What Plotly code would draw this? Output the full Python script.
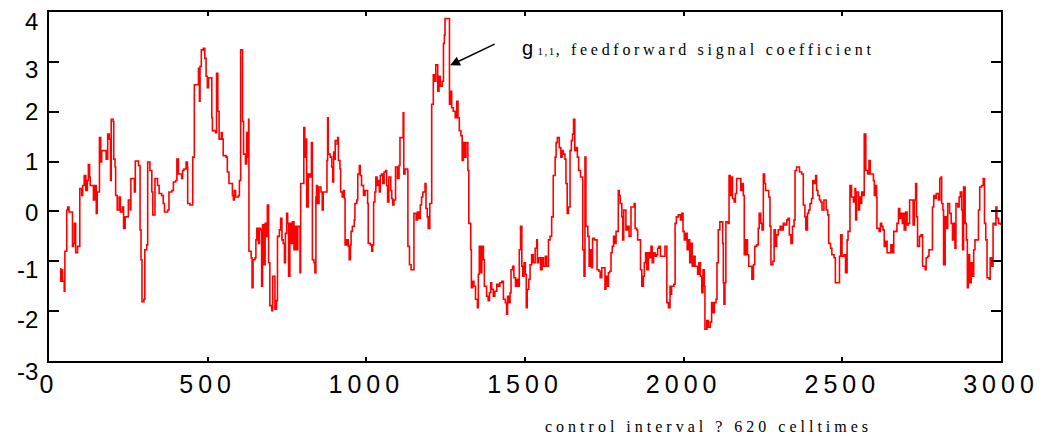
import plotly.graph_objects as go

# control interval index (x) and g_{1,1} coefficient (y) (step trace)
x_vals = [
    35, 37, 40, 43, 48, 50, 56, 59, 63, 74, 77, 80, 84, 90, 97, 103, 106, 111, 116, 121,
    124, 128, 130, 140, 145, 149, 152, 159, 163, 166, 180, 185, 190, 194, 196, 202, 204, 208, 210, 215,
    221, 225, 231, 235, 240, 250, 256, 258, 269, 272, 282, 287, 290, 293, 299, 302, 308, 311, 318, 324,
    327, 334, 342, 347, 355, 360, 364, 374, 378, 387, 392, 399, 403, 408,
    413, 418, 421, 425, 432, 436, 437, 444, 452, 453, 458, 467, 471, 474, 476, 480, 486, 491, 495, 499,
    503, 511, 513, 515, 525, 528, 532, 536, 543, 546, 549, 558, 562, 567, 574, 578, 581, 584, 588, 597,
    600, 604, 610, 613, 619, 623, 626, 629, 630, 637, 640, 643, 649, 652, 655, 660, 663, 667, 670, 673,
    678, 681, 684, 688, 692, 696, 702, 705, 710, 712, 717, 720, 726, 730, 734, 738, 742, 745, 749, 752,
    755, 759, 764, 767, 772, 775, 780, 784, 789, 791, 793, 799, 803, 806, 809, 812, 817, 822, 827, 830,
    835, 838,
    841, 843, 846, 851, 857, 861, 864, 872, 876, 878, 880, 886, 891, 894, 897, 899, 902, 908, 910, 912,
    917, 919, 924, 928, 931, 933, 938, 943, 946, 950, 952, 956, 962, 964, 970, 973, 978, 981, 985, 991,
    996, 1001, 1004, 1006, 1013, 1017, 1020, 1023, 1027, 1030, 1034, 1038, 1041, 1044, 1048, 1052, 1056, 1061, 1064, 1067,
    1071, 1077, 1080, 1083, 1087, 1092, 1098, 1103, 1106, 1113, 1116, 1118, 1122, 1130, 1131, 1136, 1141, 1147, 1150, 1157,
    1161, 1166, 1170, 1174, 1178, 1185, 1188, 1192, 1195, 1200, 1206, 1211, 1216, 1219, 1225, 1229, 1233, 1239, 1243, 1246,
    1248, 1262, 1266, 1269, 1274, 1280, 1285, 1289, 1293, 1298, 1302, 1306, 1311, 1314, 1318, 1320, 1323, 1329, 1331, 1335,
    1339, 1344, 1350, 1353, 1356, 1360, 1364, 1369, 1372, 1376, 1379, 1384, 1388, 1392, 1395, 1400, 1405, 1411, 1416, 1421,
    1427, 1432, 1438, 1442, 1445, 1449, 1453, 1456, 1461, 1465, 1470, 1474, 1479, 1482, 1486, 1490, 1493, 1497, 1501, 1504,
    1507, 1512, 1516, 1521, 1526, 1532, 1537, 1539, 1543, 1549, 1554, 1558, 1564, 1568, 1574, 1579, 1584, 1589, 1595, 1598,
    1602, 1608, 1613, 1617, 1621, 1626, 1629, 1633, 1637, 1642, 1646, 1650, 1653, 1657, 1661, 1665, 1669, 1675, 1682, 1686,
    1689, 1692, 1698, 1702, 1706, 1710, 1713, 1719, 1727, 1733, 1737, 1742, 1752, 1755, 1758, 1763, 1767, 1771, 1775, 1779,
    1784, 1787, 1794, 1797, 1800, 1805, 1808, 1811, 1818, 1823, 1828, 1834, 1844, 1847, 1852, 1855, 1864, 1868, 1873, 1876,
    1880, 1884, 1889, 1894, 1897, 1901, 1905, 1910, 1915, 1918, 1922, 1927, 1941, 1947, 1952, 1957, 1960, 1962, 1969, 1973,
    1977, 1983, 1990, 1994, 1998, 2002, 2006, 2011, 2015, 2019, 2023, 2027, 2032, 2036, 2044, 2048, 2053, 2057, 2061, 2065,
    2067, 2073, 2078, 2084, 2088, 2093, 2097, 2102, 2105, 2109, 2114, 2123, 2125, 2127, 2130, 2133, 2140, 2143, 2147, 2150,
    2154, 2159, 2163, 2167, 2180, 2184, 2188, 2191, 2196, 2201, 2205, 2215, 2220, 2224, 2230, 2235, 2238, 2243, 2247, 2251,
    2255, 2258, 2268, 2272, 2275, 2281, 2285, 2289, 2293, 2298, 2304, 2309, 2314, 2319, 2325, 2329, 2333, 2338, 2343, 2348,
    2351, 2356, 2365, 2372, 2377, 2382, 2385, 2390, 2394, 2398, 2403, 2407, 2412, 2416, 2419, 2423, 2428, 2432, 2436, 2442,
    2449, 2454, 2457, 2463, 2467, 2474, 2478, 2491, 2495, 2499, 2505, 2510, 2515, 2518, 2524, 2529, 2535,
    2540, 2542, 2545, 2551, 2554, 2559, 2561, 2566, 2569, 2574, 2580, 2584, 2588, 2598, 2601, 2605, 2608, 2609, 2616, 2620,
    2624, 2628, 2632, 2637, 2641, 2653, 2658, 2662, 2672, 2677, 2681, 2685, 2689, 2692, 2695, 2700, 2704, 2708, 2712, 2723,
    2727, 2731, 2734, 2737, 2743, 2748, 2753, 2761, 2764, 2769, 2773, 2784, 2788, 2792, 2796, 2803, 2807, 2811, 2813, 2817,
    2819, 2824, 2828, 2832, 2838, 2843, 2847, 2851, 2855, 2858, 2864, 2868, 2872, 2876, 2879, 2882, 2887, 2891, 2894, 2897,
    2901, 2906, 2910, 2914, 2918, 2929, 2933, 2939, 2944, 2948, 2952, 2956, 2963, 2966, 2971, 2975, 2981, 2984, 2987, 2992,
    2998,
]
y_vals = [
    -1.15, -1.40, -1.17, -1.40, -1.60, -0.80, 0.03, 0.09, -0.01, -0.70, -0.64, -0.24, -0.83, -0.70, 0.46, 0.32, 0.52, 0.72, 0.42, 0.62,
    0.94, 0.69, 0.52, 0.23, 0.52, -0.04, 0.39, 1.48, 0.99, 1.22, 1.05, 1.55, 1.45, 0.62, 1.85, 1.81, 1.05, 0.89, 0.32, 0.03,
    0.29, -0.01, 0.09, -0.34, -0.11, 0.23, 0.03, 0.66, 0.39, 1.01, 0.92, -0.37, -0.97, -1.81, -1.76, -0.77, -0.67, 0.99, 0.82, 0.39,
    -0.07, 0.66, 0.52, 0.36, 0.32, 0.16, -0.01, 0.03, 0.39, 0.42, 0.59, 0.62, 1.05, 0.75,
    0.75, 0.66, 0.82, 0.85, 0.99, 0.89, 0.16, 0.13, 0.13, 1.09, 2.54, 2.54, 2.87, 2.21, 2.91, 3.24, 3.27, 3.07, 2.71, 2.48,
    2.68, 2.68, 1.88, 1.62, 1.58, 2.77, 2.01, 1.45, 1.58, 1.45, 1.12, 1.09, 0.79, 0.56, 0.56, 0.32, 0.23, 0.42, 0.29, 0.32,
    0.62, 3.24, 1.81, 1.15, 0.95, 1.58, 1.09, 1.85, -0.80, -0.93, -1.53, -0.97, -0.93, -0.57, -0.34, -0.64, -0.34, -0.37, -1.50, -0.27,
    -1.07, -0.24, -0.50, 0.13, -1.03, -1.89, -1.99, -1.30, -1.30, -1.96, -1.79, -0.50, -0.37, -0.14, -0.57, -0.64, -1.03, -0.44, -0.04, -0.24,
    -1.30, -0.24, -0.64, -0.21, -0.77, -0.30, -0.77, -0.30, -0.30, -1.23, 0.56, 0.56, 1.68, 1.09, 1.45, 0.09, 0.75, 0.69, 1.38, -0.97,
    -1.03, -1.23,
    0.29, 0.52, 0.16, 0.49, 0.39, 0.03, 0.39, 0.39, 1.02, 1.88, 1.15, 1.09, 0.89, 0.59, 1.19, 1.05, 1.42, 1.35, 1.48, 1.02,
    0.85, 0.39, 0.29, 0.42, 0.26, -0.67, -0.57, -0.70, -0.97, -0.67, -0.40, -0.30, -0.17, 0.16, 0.23, 0.75, 0.92, 0.72, 0.52, 0.32,
    0.42, 0.42, 0.16, -0.64, -0.67, -0.80, -0.67, 0.19, 0.39, 0.69, 0.52, 0.62, 0.39, 0.72, 0.75, 0.56, 0.79, 0.82, 0.52, 0.19,
    0.69, 0.42, 0.26, 0.13, 0.23, 0.89, 0.66, 0.92, 1.48, 1.48, 1.98, 0.75, 0.85, 0.82, -0.70, -1.07, -1.17, -1.17, -0.04, -0.17,
    -0.01, -0.14, 0.13, 0.29, 0.39, 0.56, 0.06, -0.11, -0.34, 0.16, 2.15, 2.74, 2.61, 2.94, 2.41, 2.71, 2.51, 2.61, 3.37, 3.54,
    3.87, 2.15, 2.41, 2.08, 2.01, 1.88, 2.21, 1.88, 1.62, 1.52, 1.02, 1.38, 1.09, 1.38, 1.38, 0.82, -0.24, -0.77, -1.53, -1.40,
    -1.50, -1.76, -1.93, -1.26, -0.70, -1.23, -0.70, -0.97, -1.50, -1.50, -1.70, -1.79, -1.63, -1.43, -1.56, -1.70, -1.60, -1.46, -1.50, -1.43,
    -1.40, -1.76, -1.83, -2.06, -1.70, -1.83, -1.63, -1.17, -1.10, -1.33, -1.50, -1.36, -1.50, -0.77, -0.30, -1.10, -1.30, -1.03, -1.26, -1.93,
    -1.56, -1.36, -1.07, -0.87, -1.03, -0.74, -0.57, -1.03, -0.93, -1.17, -0.93, -1.10, -0.90, -1.10, -0.57, -0.50, -0.11, 0.72, 1.09, 1.38,
    1.48, 1.28, 1.09, 1.22, 1.15, 1.05, 0.56, -0.04, 0.09, 1.22, 1.42, 1.55, 1.85, 1.22, 1.28, 1.09, 0.82, 0.69, -0.77, -1.30,
    1.09, -0.30, -0.50, -1.10, -0.77, -1.13, -0.54, -0.57, -1.17, -1.20, -1.33, -1.13, -1.56, -1.30, -1.50, -1.23, -1.20, -0.83, -0.70, -0.50,
    -0.64, -0.40, 0.42, 0.32, 0.16, -0.11, -0.57, 0.03, -0.37, -0.30, -0.50, 0.09, 0.16, -0.34, -0.37, -0.57, -1.17, -1.50, -1.30, -1.03,
    -0.83, -1.17, -0.83, -0.93, -0.70, -1.03, -0.83, -0.90, -0.87, -0.74, -0.70, -0.90, -0.70, -1.83, -1.93, -1.50, -1.66, -1.50, -1.46, -0.24,
    -0.11, -0.07, -0.17, -0.04, -0.40, -0.57, -0.44, -0.77, -0.57, -1.03, -0.64, -1.10, -0.90, -1.10, -1.26, -1.03, -1.30, -1.63, -1.17, -1.50,
    -2.36, -2.19, -2.32, -2.22, -1.83, -2.03, -1.83, -1.76, -1.03, -0.37, -0.21, -0.64, -1.43, -1.86, -1.43, -0.21, -0.24, 0.72, 0.32, 0.69,
    0.26, 0.19, 0.36, 0.66, 0.42, 0.56, 0.32, -0.87, -0.57, -0.87, -1.10, -1.36, -1.07, -0.70, -0.67, -0.34, -0.04, -0.24, -0.37, 0.75,
    0.56, 0.42, 0.29, -0.30, -1.07, -1.00, -0.37, -0.70, -0.47, -0.37, -0.30, -0.37, -0.24, -0.27, -0.17, -0.14, -0.47, -0.64, -0.30, -0.17,
    0.82, 0.89, 0.79, 0.75, 0.13, -0.11, -0.37, -0.04, 0.03, 0.16, 0.26, 0.62, 0.56, 0.72, 0.42, 0.32, 0.23, 0.19, 0.03, 0.23,
    0.03, -0.07, -0.64, -0.74, -0.87, -0.93, -1.43, -0.90, -0.47, -0.90, -0.87, -1.23, -0.57, -0.40, 0.52, 0.29, 0.19,
    0.46, -0.17, 0.39, 0.03, 0.29, 0.16, 0.39, 0.32, 1.55, 0.82, 0.75, 1.02, 0.75, 0.62, 0.32, 0.52, 0.29, -0.34, -0.40, -0.24,
    -0.30, -0.37, -0.70, -0.60, -0.83, -0.67, -0.83, -0.40, -0.24, 0.06, -0.14, -0.04, -0.24, -0.04, -0.37, -0.01, -0.27, -0.24, 0.23, -0.27,
    0.23, 0.56, -0.11, -0.70, -0.50, -0.47, -1.10, -1.17, -0.93, -0.90, -0.77, 0.09, 0.32, 0.26, 0.36, 0.23, 0.66, 0.69, 0.16, 0.03,
    -1.07, -0.11, -0.34, 0.16, -0.04, -0.24, -0.57, -0.24, -0.74, 0.16, 0.09, 0.29, 0.39, 0.03, -0.77, 0.49, -0.24, -0.57, -1.53, -0.87,
    -1.43, -1.03, -1.30, -0.77, -0.57, 0.03, 0.49, 0.52, 0.66, -0.24, -0.57, -1.33, -1.36, -0.93, -1.10, -0.24, -0.27, 0.09, -0.14, -0.24,
    -0.27,
]

x_ticks = [0, 500, 1000, 1500, 2000, 2500, 3000]
x_tick_labels = ["0", "500", "1000", "1500", "2000", "2500", "3000"]
y_ticks = [-3, -2, -1, 0, 1, 2, 3, 4]
y_tick_labels = ["-3", "-2", "-1", "0", "1", "2", "3", "4"]
# vertical offset (px, downward) of each y label relative to its tick, as in the reference
y_label_drop = [10, 8, 8, 1, 0, 0, 8, 9]

SANS = "Liberation Sans, Arial, sans-serif"
SERIF = "Liberation Serif, Times New Roman, serif"

fig = go.Figure()
fig.add_trace(go.Scatter(
    x=x_vals, y=y_vals, mode="lines", line=dict(color="#ff0000", width=1.6, shape="hv"),
    showlegend=False, hoverinfo="skip",
))

fig.update_layout(
    width=1042, height=438,
    margin=dict(l=49, r=41, t=12, b=77, autoexpand=False),
    paper_bgcolor="white", plot_bgcolor="white",
    font=dict(family=SANS, color="black"),
    xaxis=dict(
        range=[0, 3000], tickmode="array", tickvals=x_ticks,
        ticktext=["<span style='letter-spacing:5px'>%s</span>" % t for t in x_tick_labels],
        ticks="inside", ticklen=4, tickwidth=1.5, tickcolor="black",
        showline=True, linecolor="black", linewidth=2, mirror="ticks",
        showgrid=False, zeroline=False, automargin=False,
        tickfont=dict(family=SANS, size=25, color="black"),
    ),
    yaxis=dict(
        range=[-3, 4], tickmode="array", tickvals=y_ticks,
        ticktext=[""] * len(y_ticks),
        ticks="inside", ticklen=10, tickwidth=1.5, tickcolor="black",
        showline=True, linecolor="black", linewidth=2, mirror="ticks",
        showgrid=False, zeroline=False, automargin=False,
    ),
)

# y tick labels (placed as text so each can sit where the reference shows it)
for val, lab, drop in zip(y_ticks, y_tick_labels, y_label_drop):
    fig.add_annotation(
        x=0, xref="paper", y=val, yref="y", text=lab, showarrow=False,
        xanchor="right", yanchor="middle", xshift=-9, yshift=-drop,
        font=dict(family=SANS, size=24, color="black"),
    )

# series label with arrow
fig.add_annotation(
    x=1264, y=2.93, xref="x", yref="y", text="", showarrow=True,
    ax=46, ay=-22, arrowhead=2, arrowsize=1.3, arrowwidth=1.5, arrowcolor="black",
)
fig.add_annotation(
    x=1483, y=3.27, xref="x", yref="y", showarrow=False, xanchor="left", yanchor="middle",
    text=("<span style='font-family:Liberation Sans;font-size:20px'>g</span>"
          "<span style='font-size:11px;letter-spacing:1.5px'> 1,1</span>"
          "<span style='letter-spacing:3.7px'>, feedforward signal coefficient</span>"),
    font=dict(family=SERIF, size=16, color="black"),
)

# x-axis caption
fig.add_annotation(
    xref="paper", x=(708 - 49) / 952, yref="paper", y=-(426 - 361) / 349,
    xanchor="center", yanchor="middle", showarrow=False,
    text="<span style='letter-spacing:4px'>control interval ? 620 celltimes</span>",
    font=dict(family=SERIF, size=16, color="black"),
)

fig.write_html("out.html")
